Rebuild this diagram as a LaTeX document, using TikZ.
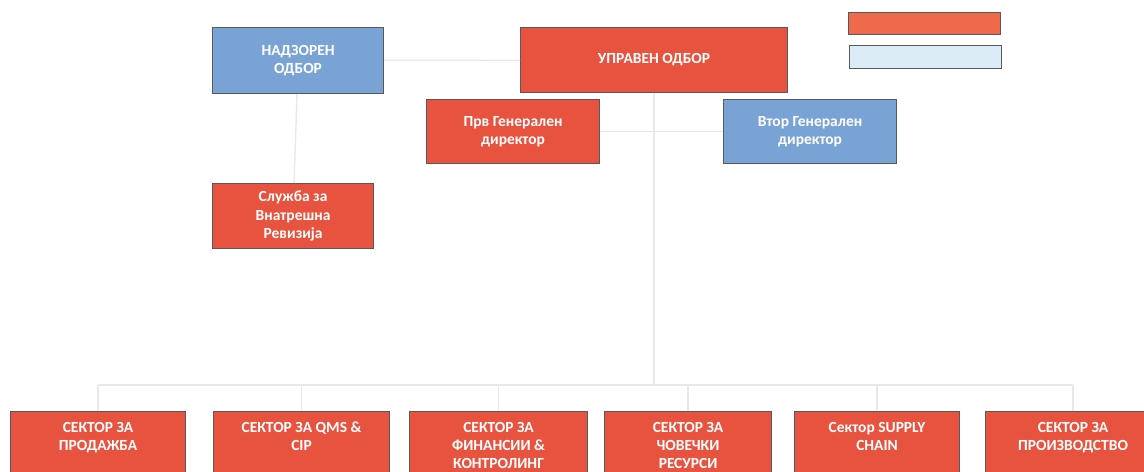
\documentclass[tikz,border=0pt]{standalone}
\usepackage{fontspec}
\setmainfont{Carlito}
\tikzset{
  unit/.style={draw=black!65, line width=0.8pt, text=white, font=\bfseries\fontsize{11}{13}\selectfont,
    align=center, inner sep=2pt, anchor=north west},
  sector/.style={unit, fill=redbox, minimum height=68*0.025cm},
  link/.style={draw=black!9, line width=1pt}
}
\definecolor{redbox}{HTML}{E8533F}
\definecolor{bluebox}{HTML}{7AA3D5}
\definecolor{legendred}{HTML}{EE6A4A}
\definecolor{legendblue}{HTML}{DCECF7}
\begin{document}
\begin{tikzpicture}[x=0.025cm,y=-0.025cm]
  \useasboundingbox (0,0) rectangle (1144,472);
  \clip (0,0) rectangle (1144,472);
  % top level
  \node[unit, fill=bluebox, minimum width=171*0.025cm, minimum height=66*0.025cm] (nadzor) at (212,27) {НАДЗОРЕН\\ОДБОР};
  \node[unit, fill=redbox, minimum width=267*0.025cm, minimum height=65*0.025cm] (upraven) at (520,27) {УПРАВЕН ОДБОР};
  \node[unit, fill=redbox, minimum width=173*0.025cm, minimum height=64*0.025cm] (prv) at (426,99) {Прв Генерален\\директор};
  \node[unit, fill=bluebox, minimum width=173*0.025cm, minimum height=64*0.025cm] (vtor) at (723,99) {Втор Генерален\\директор};
  \node[unit, fill=redbox, minimum width=161*0.025cm, minimum height=65*0.025cm] (sluzba) at (212,183) {Служба за\\Внатрешна\\Ревизија};
  % legend
  \node[unit, fill=legendred, minimum width=152*0.025cm, minimum height=22*0.025cm] (legred) at (848,12) {};
  \node[unit, fill=legendblue, minimum width=152*0.025cm, minimum height=23*0.025cm] (legblue) at (849,45) {};
  % sectors
  \node[sector, minimum width=175*0.025cm] (prodazba) at (10,411) {СЕКТОР ЗА\\ПРОДАЖБА\\~};
  \node[sector, minimum width=176*0.025cm] (qms) at (213,411) {СЕКТОР ЗА QMS \&\\CIP\\~};
  \node[sector, minimum width=178*0.025cm] (finansii) at (409,411) {СЕКТОР ЗА\\ФИНАНСИИ \&\\КОНТРОЛИНГ};
  \node[sector, minimum width=167*0.025cm] (resursi) at (604,411) {СЕКТОР ЗА\\ЧОВЕЧКИ\\РЕСУРСИ};
  \node[sector, minimum width=165*0.025cm] (supply) at (794,411) {Сектор SUPPLY\\CHAIN\\~};
  \node[sector, minimum width=175*0.025cm] (proizvodstvo) at (985,411) {СЕКТОР ЗА\\ПРОИЗВОДСТВО\\~};
  \coordinate (bus) at (upraven.south |- 0,385);
  \begin{scope}[link]
    \draw (nadzor) to (upraven);
    \draw (nadzor) to (sluzba);
    \draw (upraven) to (bus);
    \draw (prv.east) to (prv.east -| bus);
    \draw (vtor.west) to (vtor.west -| bus);
    \draw (prodazba.north |- bus) to (proizvodstvo.north |- bus);
    \draw (prodazba.north |- bus) to (prodazba);
    \draw (qms.north |- bus) to (qms);
    \draw (finansii.north |- bus) to (finansii);
    \draw (resursi.north |- bus) to (resursi);
    \draw (supply.north |- bus) to (supply);
    \draw (proizvodstvo.north |- bus) to (proizvodstvo);
  \end{scope}
\end{tikzpicture}
\end{document}
